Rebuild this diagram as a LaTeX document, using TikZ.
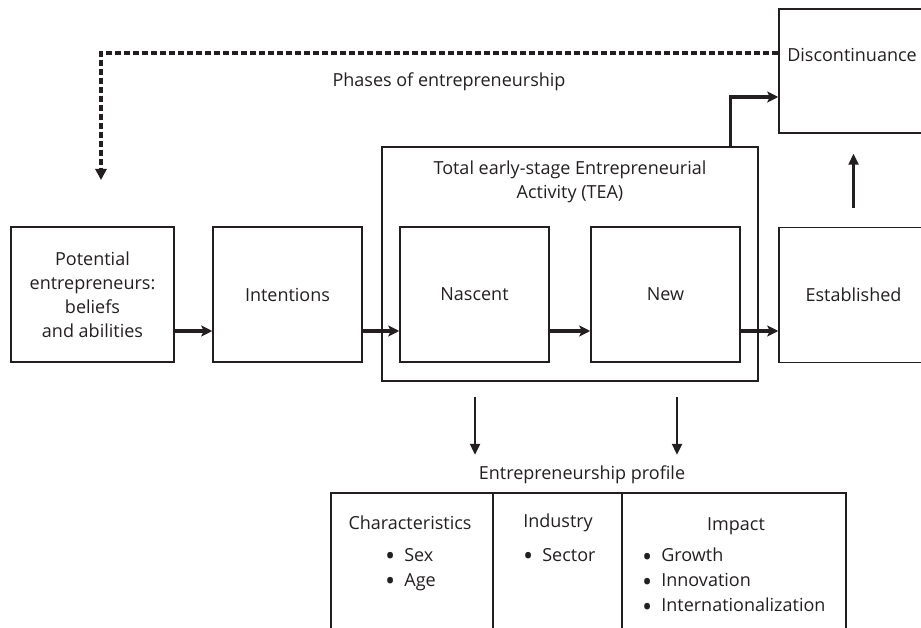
\documentclass[tikz,border=0pt]{standalone}
\usepackage{fontspec}
\setmainfont{Open Sans}
\usetikzlibrary{arrows.meta}
\definecolor{ink}{HTML}{231F20}
\newcommand{\blt}{\raisebox{-0.27em}{\scalebox{1.5}{\textbullet}}\hspace{9pt}}
\begin{document}
\begin{tikzpicture}[x=1pt,y=-1pt,
  font=\fontsize{18}{24}\selectfont, text=ink,
  stagebox/.style={draw=ink, line width=1.5pt, inner sep=0pt, minimum width=149pt, minimum height=135pt, align=center},
  plainbox/.style={draw=ink, line width=1.5pt, inner sep=0pt},
  lbl/.style={inner sep=0pt, align=center},
  flow/.style={draw=ink, line width=3.2pt, -{Stealth[length=11pt,width=11pt,inset=2.5pt]}},
  drop/.style={draw=ink, line width=2.4pt, -{Triangle[length=11pt,width=10pt]}},
  loopback/.style={draw=ink, line width=3.2pt, dash pattern=on 6pt off 3pt, -{Triangle[length=11pt,width=11pt]}},
  bullet/.style={inner sep=0pt, anchor=west}]
\useasboundingbox (0,0) rectangle (921,628);
\clip (0,0) rectangle (921,628);

% main stages
\node[stagebox, minimum width=163pt] (pot) at (92.5,294.5) {Potential\\entrepreneurs:\\beliefs\\and abilities};
\node[stagebox] (int) at (287.5,294.5) {Intentions};
\node[plainbox, minimum width=376pt, minimum height=234pt] (tea) at (570,264) {};
\node[lbl] (teatitle) at (570,182) {Total early-stage Entrepreneurial\\Activity (TEA)};
\node[stagebox] (nas) at (474.5,294.5) {Nascent};
\node[stagebox] (new) at (665.5,294.5) {New};
\node[stagebox] (est) at (853.5,295) {Established};
\node[plainbox, minimum width=149pt, minimum height=124pt] (disc) at (853.5,71) {};
\node[lbl] (disctext) at (852,55) {Discontinuance};
\node[lbl] (phases) at (449,82) {Phases of entrepreneurship};

% flow between stages
\draw[flow] ([yshift=-36.5pt]pot.east) -- ([yshift=-36.5pt]int.west);
\draw[flow] ([yshift=-36.5pt]int.east) -- ([yshift=-36.5pt]nas.west);
\draw[flow] ([yshift=-36.5pt]nas.east) -- ([yshift=-36.5pt]new.west);
\draw[flow] ([yshift=-36.5pt]new.east) -- ([yshift=-36pt]est.west);
\draw[flow] ([xshift=-28pt]tea.north east) |- ([yshift=-26pt]disc.west);
\draw[drop] ([yshift=19pt]est.north) -- ([yshift=-20pt]disc.south);

% return path to potential entrepreneurs
\coordinate (ret) at (101,180);
\draw[loopback] ([yshift=18pt]disc.west) -| (ret);

% entrepreneurship profile
\node[lbl] (profile) at (582,475) {Entrepreneurship profile};
\draw[drop] ([shift={(-95pt,-15pt)}]tea.south) -- ++(0,58);
\draw[drop] ([shift={(107pt,-15pt)}]tea.south) -- ++(0,58);

\node[plainbox, minimum width=162pt, minimum height=180pt] (charbox) at (412,583) {};
\node[plainbox, minimum width=129pt, minimum height=180pt] (indbox) at (557.5,583) {};
\node[plainbox, minimum width=224pt, minimum height=180pt] (impbox) at (734,583) {};

\node[lbl] (chartitle) at (410,523) {Characteristics};
\node[bullet] (sex) at (385,557) {\blt Sex};
\node[bullet] (age) at (385,582) {\blt Age};

\node[lbl] (indtitle) at (558,523) {Industry};
\node[bullet] (sector) at (523,557) {\blt Sector};

\node[lbl] (imptitle) at (736,526) {Impact};
\node[bullet] (growth) at (642,557) {\blt Growth};
\node[bullet] (innov) at (642,582) {\blt Innovation};
\node[bullet] (intl) at (642,607) {\blt Internationalization};
\end{tikzpicture}
\end{document}
